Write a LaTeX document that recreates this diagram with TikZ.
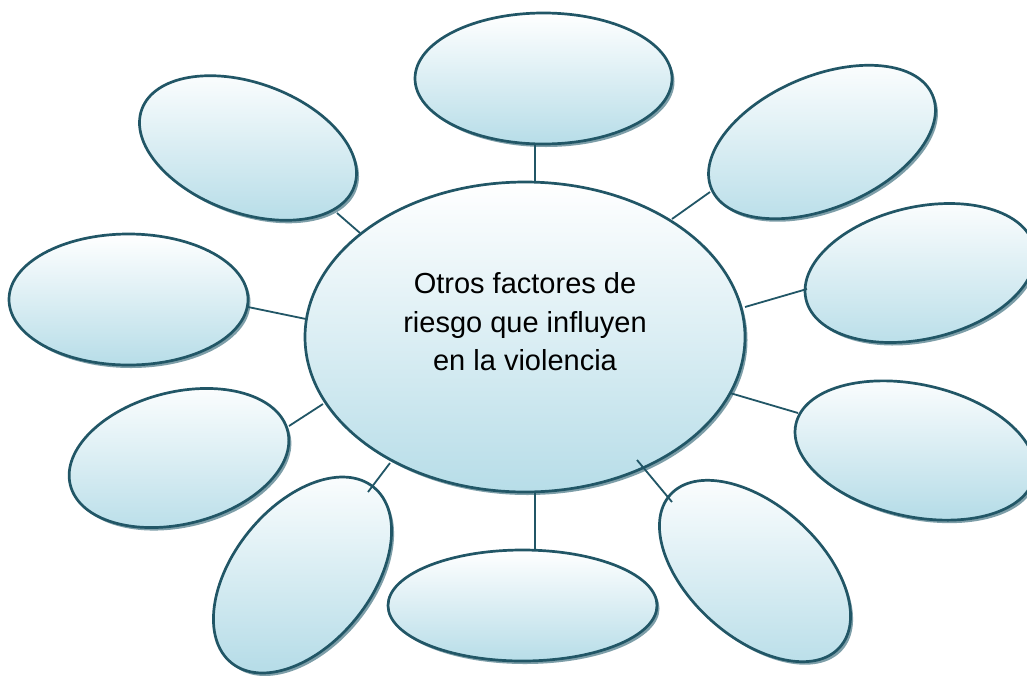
\documentclass[tikz,border=0pt]{standalone}
\usepackage{fontspec}
\setmainfont{Liberation Sans}
\usetikzlibrary{shapes.geometric,shadows}
\definecolor{edgec}{RGB}{33,86,102}
\definecolor{fillb}{RGB}{183,221,232}
\definecolor{shadc}{RGB}{125,158,168}
\tikzset{
  ell/.style={ellipse, draw=edgec, line width=2.7pt, inner sep=0pt,
    top color=white, bottom color=fillb,
    drop shadow={shadow xshift=2.5pt, shadow yshift=-3pt, fill=shadc, opacity=1}},
  sat/.style={ell, rotate=#1},
  conn/.style={draw=edgec, line width=1.8pt},
}
\begin{document}
\begin{tikzpicture}[x=1pt,y=1pt]
\clip (0,0) rectangle (1027,-675);
\fill[white] (0,0) rectangle (1027,-675);
% central
\node[ell, minimum width=440pt, minimum height=310pt] (c) at (525,-337) {};
\node[font=\fontsize{29}{38.5}\selectfont, align=center, inner sep=0pt] (ctext) at (525,-322)
  {Otros factores de\\riesgo que influyen\\en la violencia};
% satellites
\node[sat=0,   minimum width=257pt, minimum height=131pt] (s1)  at (543.5,-78.5) {};
\node[sat=23,  minimum width=240pt, minimum height=132pt] (s2)  at (822,-142) {};
\node[sat=13,  minimum width=234pt, minimum height=132pt] (s3)  at (920,-273) {};
\node[sat=-12.5, minimum width=244pt, minimum height=132pt] (s4) at (915,-450.5) {};
\node[sat=-42, minimum width=228pt, minimum height=132pt] (s5)  at (755,-571) {};
\node[sat=0,   minimum width=269pt, minimum height=111pt] (s6)  at (522.5,-605.5) {};
\node[sat=51,  minimum width=226pt, minimum height=138pt] (s7)  at (302.5,-575) {};
\node[sat=14,  minimum width=224pt, minimum height=132pt] (s8)  at (179,-458) {};
\node[sat=0,   minimum width=239pt, minimum height=131pt] (s9)  at (128.5,-299.5) {};
\node[sat=-20, minimum width=226pt, minimum height=130pt] (s10) at (248,-148) {};
% connector end points
\coordinate (c1) at (535,-182);   \coordinate (e1) at (535,-144);
\coordinate (c2) at (672,-219);   \coordinate (e2) at (710,-192);
\coordinate (c3) at (745,-307);   \coordinate (e3) at (807,-289);
\coordinate (c4) at (730,-393);   \coordinate (e4) at (798,-413);
\coordinate (c5) at (637,-460);   \coordinate (e5) at (672,-502);
\coordinate (c6) at (535,-492);   \coordinate (e6) at (535,-550);
\coordinate (c7) at (390,-463);   \coordinate (e7) at (368,-492);
\coordinate (c8) at (323,-404);   \coordinate (e8) at (289,-426);
\coordinate (c9) at (306,-319);   \coordinate (e9) at (248,-307);
\coordinate (c10) at (360,-233);  \coordinate (e10) at (337,-213);
\foreach \i in {1,...,10} { \draw[conn] (c\i) -- (e\i); }
\end{tikzpicture}
\end{document}
